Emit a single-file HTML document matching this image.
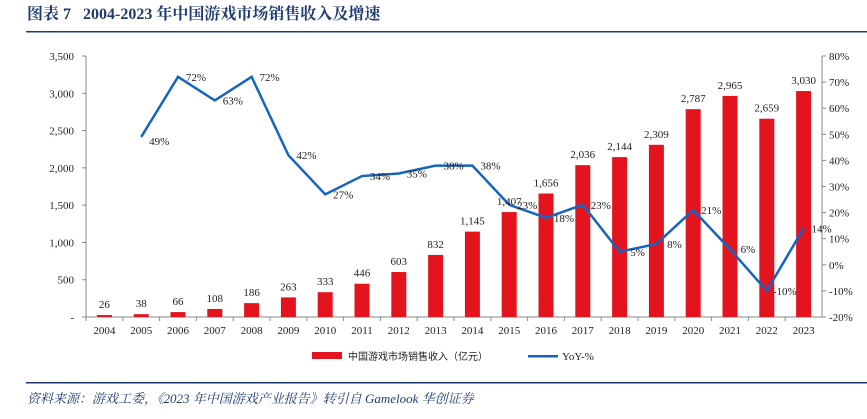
<!DOCTYPE html>
<html><head><meta charset="utf-8"><style>
body{margin:0;width:867px;height:414px;background:#fff;overflow:hidden;font-family:"Liberation Serif","Noto Serif CJK SC",serif;}
</style></head><body>
<svg width="867" height="414" xmlns="http://www.w3.org/2000/svg">
<text x="27" y="19" font-size="16" font-weight="bold" fill="#1f3b73" style="white-space:pre" font-family="Liberation Serif, Noto Serif CJK SC, serif">图表 7   2004-2023 年中国游戏市场销售收入及增速</text>
<rect x="26" y="31" width="841" height="1.5" fill="#1f3b73"/>
<g id="axes"></g>
<g id="bars"></g>
<g id="line"></g>
<g id="labels"></g>
<g>
<rect x="312" y="352" width="30" height="7" fill="#e3141e"/>
<text x="348" y="360" font-size="10" fill="#222" font-family="Liberation Sans, Noto Sans CJK SC, sans-serif">中国游戏市场销售收入（亿元）</text>
<rect x="528" y="355" width="30" height="2.5" fill="#1565c0"/>
<text x="562" y="360" font-size="11" fill="#222">YoY-%</text>
</g>
<rect x="26" y="382" width="841" height="1.5" fill="#1f3b73"/>
<text x="27" y="403" font-size="13" font-style="italic" fill="#1f3b73" font-family="Liberation Serif, Noto Serif CJK SC, serif">资料来源：游戏工委，《2023 年中国游戏产业报告》转引自 Gamelook 华创证券</text>
</svg>
<script>
const years=["2004","2005","2006","2007","2008","2009","2010","2011","2012","2013","2014","2015","2016","2017","2018","2019","2020","2021","2022","2023"];
const revenue=[26,38,66,108,186,263,333,446,603,832,1145,1407,1656,2036,2144,2309,2787,2965,2659,3030];
const yoy=[null,49,72,63,72,42,27,34,35,38,38,23,18,23,5,8,21,6,-10,14];
const leftTicks=[0,500,1000,1500,2000,2500,3000,3500];
const rightTicks=[-20,-10,0,10,20,30,40,50,60,70,80];
const NS="http://www.w3.org/2000/svg";
const L=86,R=822,T=56,B=317;
const bw=(R-L)/years.length;
const xc=i=>L+bw*(i+0.5);
const yL=v=>B-(v/3500)*(B-T);
const yR=v=>B-((v+20)/100)*(B-T);
function mk(tag,attrs,parent,text){const e=document.createElementNS(NS,tag);for(const k in attrs)e.setAttribute(k,attrs[k]);if(text!==undefined)e.textContent=text;document.getElementById(parent).appendChild(e);return e;}
const fmt=v=>v.toLocaleString('en-US');
let e=mk('line',{x1:L,y1:T,x2:L,y2:B,stroke:'#888'},'axes');

e=mk('line',{x1:R,y1:T,x2:R,y2:B,stroke:'#888'},'axes');

e=mk('line',{x1:L,y1:B,x2:R,y2:B,stroke:'#888'},'axes');

leftTicks.forEach(v=>{const y=yL(v);
 mk('line',{x1:L-4,y1:y,x2:L,y2:y,stroke:'#888'},'axes');
 const t=mk('text',{x:L-12,y:y+4,'font-size':11,'text-anchor':'end',fill:'#222'},'axes',v===0?'-':fmt(v));
 });
rightTicks.forEach(v=>{const y=yR(v);
 mk('line',{x1:R,y1:y,x2:R+4,y2:y,stroke:'#888'},'axes');
 const t=mk('text',{x:R+7,y:y+4,'font-size':11,fill:'#222'},'axes',v+'%');
 });
years.forEach((yr,i)=>{
 mk('line',{x1:L+bw*i,y1:B,x2:L+bw*i,y2:B+4,stroke:'#888'},'axes');
 const t=mk('text',{x:xc(i),y:B+17,'font-size':11,'text-anchor':'middle',fill:'#222'},'axes',yr);
 
 const b=mk('rect',{x:xc(i)-7.5,y:yL(revenue[i]),width:15,height:B-yL(revenue[i]),fill:'#e3141e'},'bars');
 
 const l=mk('text',{x:xc(i),y:yL(revenue[i])-7,'font-size':11,'text-anchor':'middle',fill:'#222'},'labels',fmt(revenue[i]));
 
});
let d='';yoy.forEach((v,i)=>{if(v===null)return;d+=(d?'L':'M')+xc(i)+','+yR(v);});
const p=mk('path',{d:d,fill:'none',stroke:'#1565c0','stroke-width':2.5,'stroke-linejoin':'miter'},'line');

yoy.forEach((v,i)=>{if(v===null)return;
 const t=mk('text',{x:xc(i)+18,y:yR(v)+(v===49?8:4),'font-size':11,'text-anchor':'middle',fill:'#222'},'labels',v+'%');
 });
</script>
</body></html>
